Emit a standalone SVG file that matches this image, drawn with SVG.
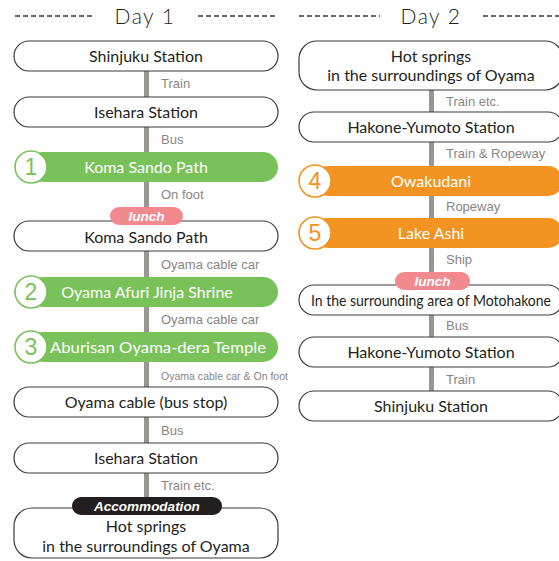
<svg xmlns="http://www.w3.org/2000/svg" width="559" height="561" viewBox="0 0 559 561">
<style>
.box{fill:#fff;stroke:#3a3a3a;stroke-width:1.2}
.green{fill:#79c25a}
.orange{fill:#f39322}
.nt{font-family:Lato,"Liberation Sans",sans-serif;font-size:16px;fill:#231f20;text-anchor:middle}
.wt{font-family:Lato,"Liberation Sans",sans-serif;font-size:16px;fill:#fff;text-anchor:middle}
.lab{font-family:"Liberation Sans",Arial,sans-serif;font-size:13px;fill:#8a8583}
.day{font-family:Lato,"Liberation Sans",sans-serif;font-weight:300;font-size:21px;fill:#231f20;text-anchor:middle;letter-spacing:1.5px}
.dash{stroke:#3a3a3a;stroke-width:1.3;stroke-dasharray:5 3}
.bar{fill:#9b9694}
.cg{fill:#fff;stroke:#79c25a;stroke-width:1.6}
.co{fill:#fff;stroke:#f39322;stroke-width:1.6}
.num{font-family:"Liberation Sans",sans-serif;font-weight:300;font-size:23px;text-anchor:middle}
.pill{font-family:"Liberation Sans",sans-serif;font-weight:bold;font-style:italic;font-size:13.5px;fill:#fff;text-anchor:middle}
</style>

<g id="headers">
  <line class="dash" x1="15" y1="16" x2="95" y2="16"/>
  <text class="day" x="145" y="24">Day 1</text>
  <line class="dash" x1="198" y1="16" x2="278" y2="16"/>
  <line class="dash" x1="299" y1="16" x2="380" y2="16"/>
  <text class="day" x="431" y="24">Day 2</text>
  <line class="dash" x1="483" y1="16" x2="559" y2="16"/>
</g>

<g id="connectors">
  <rect class="bar" x="144" y="60" width="5" height="455"/>
  <rect class="bar" x="429" y="70" width="5" height="330"/>
  <text class="lab" x="161" y="88">Train</text>
  <text class="lab" x="161" y="144">Bus</text>
  <text class="lab" x="161" y="199">On foot</text>
  <text class="lab" x="161" y="269">Oyama cable car</text>
  <text class="lab" x="161" y="324">Oyama cable car</text>
  <text class="lab" x="161" y="380" style="font-size:11.5px" textLength="127" lengthAdjust="spacingAndGlyphs">Oyama cable car &amp; On foot</text>
  <text class="lab" x="161" y="435">Bus</text>
  <text class="lab" x="161" y="490">Train etc.</text>
  <text class="lab" x="446" y="106">Train etc.</text>
  <text class="lab" x="446" y="158">Train &amp; Ropeway</text>
  <text class="lab" x="446" y="211">Ropeway</text>
  <text class="lab" x="446" y="264">Ship</text>
  <text class="lab" x="446" y="330">Bus</text>
  <text class="lab" x="446" y="384">Train</text>
</g>

<g id="d1-shinjuku">
  <rect class="box" x="14" y="41" width="264" height="30" rx="15"/>
  <text class="nt" x="146" y="61.5">Shinjuku Station</text>
</g>
<g id="d1-isehara">
  <rect class="box" x="14" y="97" width="264" height="30" rx="15"/>
  <text class="nt" x="146" y="117.5">Isehara Station</text>
</g>
<g id="d1-koma1">
  <rect class="green" x="28" y="152" width="250" height="30" rx="15"/>
  <circle class="cg" cx="31" cy="167" r="16"/>
  <text class="num" x="31" y="175" fill="#79c25a">1</text>
  <text class="wt" x="146" y="172.5">Koma Sando Path</text>
</g>
<g id="d1-koma2">
  <rect class="box" x="14" y="221" width="264" height="30" rx="15"/>
  <text class="nt" x="146" y="242.5">Koma Sando Path</text>
  <rect x="110" y="207" width="73" height="18" rx="9" fill="#f08a8f"/>
  <text class="pill" x="146.5" y="221">lunch</text>
</g>
<g id="d1-afuri">
  <rect class="green" x="28" y="277" width="250" height="30" rx="15"/>
  <circle class="cg" cx="31" cy="292" r="16"/>
  <text class="num" x="31" y="300" fill="#79c25a">2</text>
  <text class="wt" x="147" y="297.5">Oyama Afuri Jinja Shrine</text>
</g>
<g id="d1-aburisan">
  <rect class="green" x="28" y="332" width="250" height="30" rx="15"/>
  <circle class="cg" cx="31" cy="347" r="16"/>
  <text class="num" x="31" y="355" fill="#79c25a">3</text>
  <text class="wt" x="158" y="352.5" textLength="216" lengthAdjust="spacingAndGlyphs">Aburisan Oyama-dera Temple</text>
</g>
<g id="d1-cablebus">
  <rect class="box" x="14" y="387" width="264" height="30" rx="15"/>
  <text class="nt" x="146" y="407.5">Oyama cable (bus stop)</text>
</g>
<g id="d1-isehara2">
  <rect class="box" x="14" y="443" width="264" height="30" rx="15"/>
  <text class="nt" x="146" y="463.5">Isehara Station</text>
</g>
<g id="d1-hotsprings">
  <rect class="box" x="14" y="508" width="264" height="50" rx="18"/>
  <text class="nt" x="146" y="531.5">Hot springs</text>
  <text class="nt" x="146" y="551.5">in the surroundings of Oyama</text>
  <rect x="72" y="497" width="150" height="18" rx="9" fill="#231f20"/>
  <text class="pill" x="147" y="511">Accommodation</text>
</g>

<g id="d2-hotsprings">
  <rect class="box" x="299" y="41" width="264" height="49" rx="18"/>
  <text class="nt" x="431" y="61.5">Hot springs</text>
  <text class="nt" x="431" y="80.5">in the surroundings of Oyama</text>
</g>
<g id="d2-yumoto">
  <rect class="box" x="299" y="112" width="264" height="30" rx="15"/>
  <text class="nt" x="431" y="132.5">Hakone-Yumoto Station</text>
</g>
<g id="d2-owakudani">
  <rect class="orange" x="313" y="166" width="250" height="30" rx="15"/>
  <circle class="co" cx="315" cy="181" r="16"/>
  <text class="num" x="315" y="189" fill="#f39322">4</text>
  <text class="wt" x="431" y="186.5">Owakudani</text>
</g>
<g id="d2-ashi">
  <rect class="orange" x="313" y="218" width="250" height="30" rx="15"/>
  <circle class="co" cx="315" cy="233" r="16"/>
  <text class="num" x="315" y="241" fill="#f39322">5</text>
  <text class="wt" x="431" y="238.5">Lake Ashi</text>
</g>
<g id="d2-motohakone">
  <rect class="box" x="299" y="285" width="264" height="30" rx="15"/>
  <text class="nt" x="431" y="305.5" textLength="240" lengthAdjust="spacingAndGlyphs">In the surrounding area of Motohakone</text>
  <rect x="395" y="272" width="75" height="18" rx="9" fill="#f08a8f"/>
  <text class="pill" x="432.5" y="286">lunch</text>
</g>
<g id="d2-yumoto2">
  <rect class="box" x="299" y="337" width="264" height="30" rx="15"/>
  <text class="nt" x="431" y="357.5">Hakone-Yumoto Station</text>
</g>
<g id="d2-shinjuku">
  <rect class="box" x="299" y="391" width="264" height="30" rx="15"/>
  <text class="nt" x="431" y="411.5">Shinjuku Station</text>
</g>
</svg>
